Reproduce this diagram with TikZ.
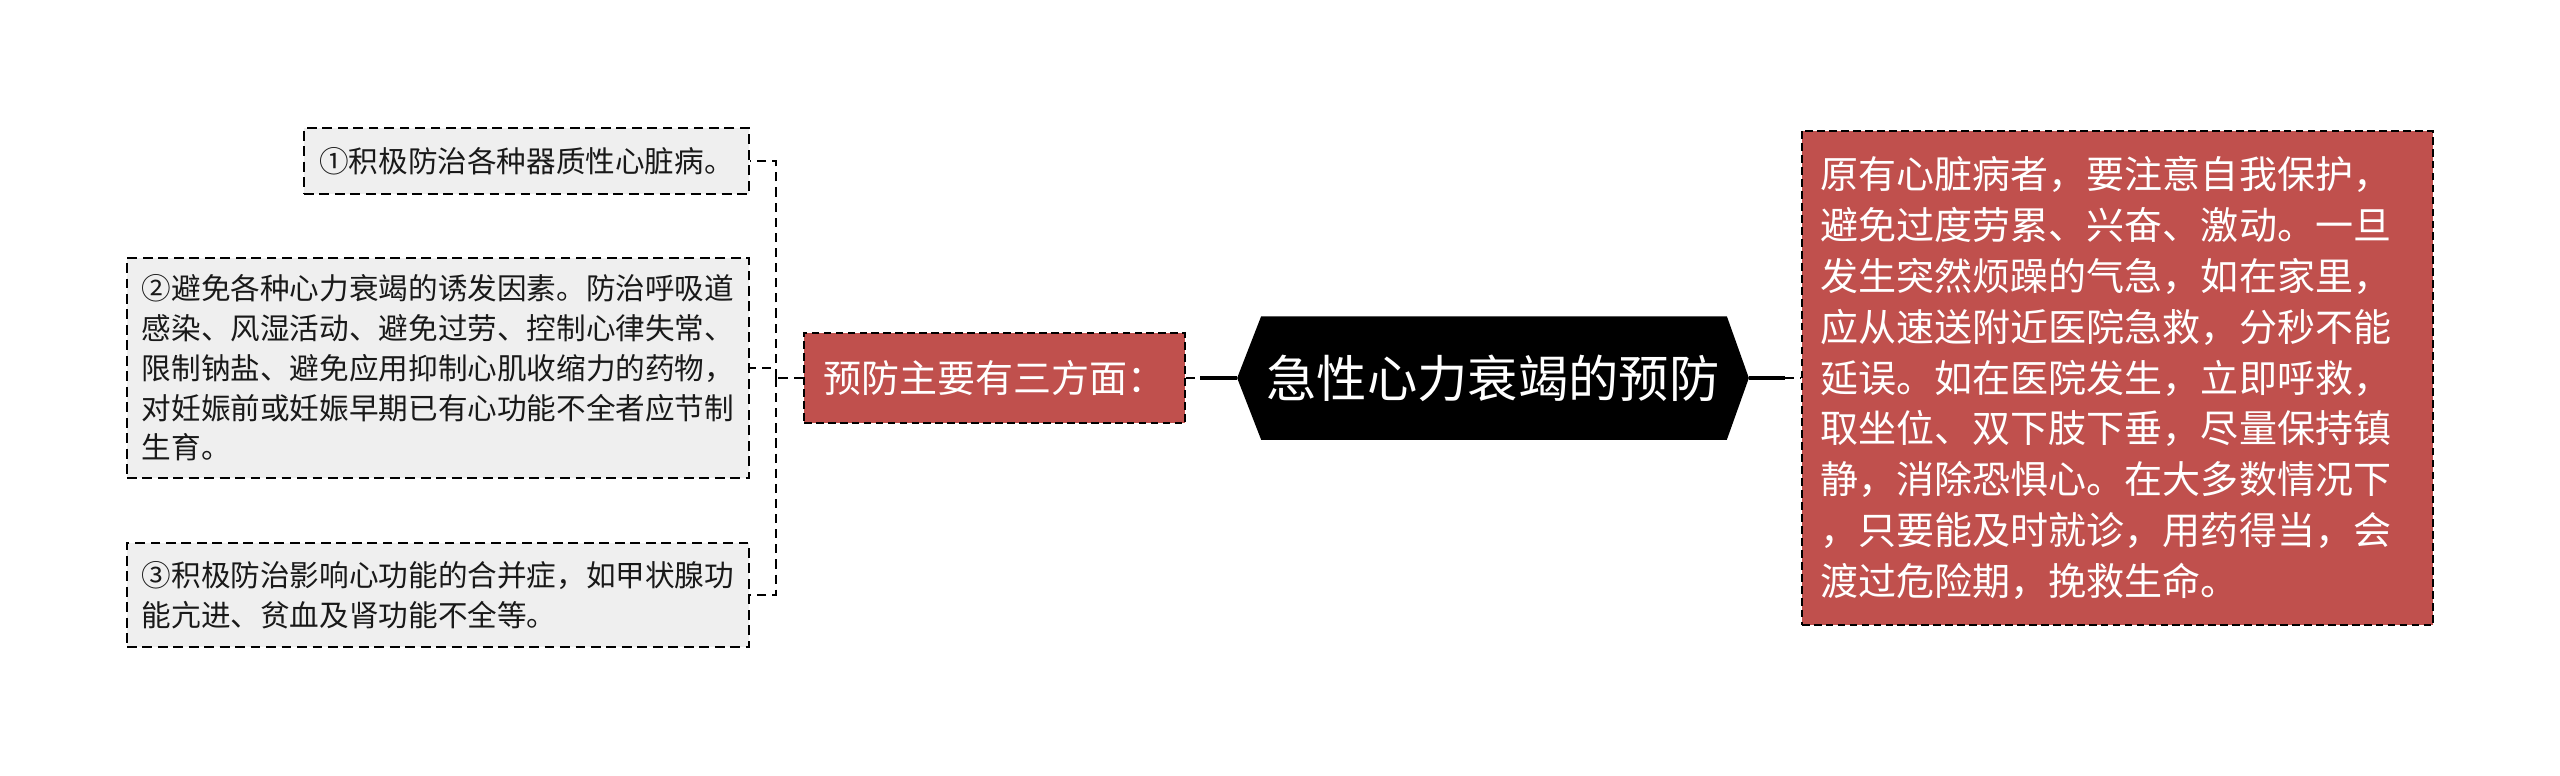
\documentclass[tikz,border=0pt]{standalone}
\usepackage{fontspec}
\setmainfont{Noto Sans CJK SC}
\usetikzlibrary{calc,backgrounds}
\definecolor{boxred}{HTML}{C0504D}
\definecolor{boxgray}{HTML}{EFEFEF}

\begin{document}
\begin{tikzpicture}[x=0.01cm,y=-0.01cm,
    leaf/.style={draw,fill=boxgray,text=black!90,line width=0.7pt,dash pattern=on 2.8pt off 1.6pt,
                 inner sep=0pt,align=left,font=\fontsize{8.42pt}{11.3pt}\selectfont},
    topic/.style={draw,fill=boxred,text=white,line width=0.7pt,dash pattern=on 2.2pt off 1.2pt,
                  inner sep=0pt,align=left,font=\fontsize{10.81pt}{14.45pt}\selectfont},
    hubnode/.style={text=white,inner sep=0pt,font=\fontsize{14.31pt}{17pt}\selectfont},
    link/.style={line width=1.1pt},
    dlink/.style={line width=0.7pt,dash pattern=on 2.6pt off 1.7pt}]
    \useasboundingbox (0,0) rectangle (2560,775);

    \node[hubnode,minimum width=5.1cm,minimum height=1.22cm] (hub) at (1493,378) {急性心力衰竭的预防};
    \begin{scope}[on background layer]
      \fill (hub.west) -- ($(hub.north west)+(24,0)$) -- ($(hub.north east)+(-22,0)$) -- (hub.east)
            -- ($(hub.south east)+(-22,0)$) -- ($(hub.south west)+(24,0)$) -- cycle;
    \end{scope}

    \node[topic,minimum width=3.81cm,minimum height=0.9cm] (mid) at (994.5,378) {预防主要有三方面：};
    \node[topic,text width=5.93cm,inner xsep=0.19cm,minimum height=4.94cm] (cure) at (2117.5,378)
      {原有心脏病者，要注意自我保护，\\避免过度劳累、兴奋、激动。一旦\\发生突然烦躁的气急，如在家里，\\
       应从速送附近医院急救，分秒不能\\延误。如在医院发生，立即呼救，\\取坐位、双下肢下垂，尽量保持镇\\
       静，消除恐惧心。在大多数情况下\\，只要能及时就诊，用药得当，会\\渡过危险期，挽救生命。};

    \node[leaf,minimum width=4.45cm,minimum height=0.66cm] (p1) at (526.5,161) {①积极防治各种器质性心脏病。};
    \node[leaf,minimum width=6.22cm,minimum height=2.2cm] (p2) at (438,368)
      {②避免各种心力衰竭的诱发因素。防治呼吸道\\感染、风湿活动、避免过劳、控制心律失常、\\
       限制钠盐、避免应用抑制心肌收缩力的药物，\\对妊娠前或妊娠早期已有心功能不全者应节制\\生育。};
    \node[leaf,minimum width=6.22cm,minimum height=1.04cm] (p3) at (438,595)
      {③积极防治影响心功能的合并症，如甲状腺功\\能亢进、贫血及肾功能不全等。};

    \coordinate (jl) at (776,378);
    \coordinate (jm) at (1200,378);
    \coordinate (jr) at (1785,378);

    \draw[dlink] (mid.west) -- (jl);
    \draw[dlink] (jl) |- (p1.east);
    \draw[dlink] (jl) |- (p2.east);
    \draw[dlink] (jl) |- (p3.east);
    \draw[dlink] (mid.east) -- (jm);
    \draw[link] (jm) -- (hub.west);
    \draw[link] (hub.east) -- (jr);
    \draw[dlink] (jr) -- (cure.west);
  \end{tikzpicture}
\end{document}
